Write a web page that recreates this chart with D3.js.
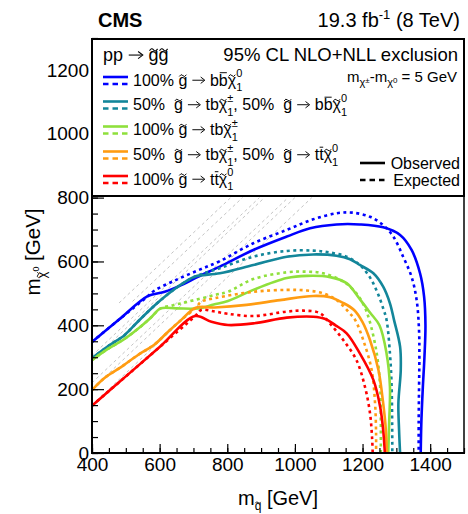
<!DOCTYPE html>
<html><head><meta charset="utf-8">
<script src="https://cdn.jsdelivr.net/npm/d3@7"></script>
<style>
body{margin:0;background:#fff}
text{font-family:'Liberation Sans',Arial,Helvetica,sans-serif;white-space:pre;fill:#000}
</style></head>
<body><svg id="c" width="468" height="514"></svg>
<script>
// ---------- data (GeV) ----------
const xTicks = [400, 600, 800, 1000, 1200, 1400];
const yTicks = [0, 200, 400, 600, 800, 1000, 1200];

const blueObs = [[400,348],[480,418],[566,492],[615,505],[664,526],[713,552],[778,584],[877,636],[976,678],[1045,704],[1123,716],[1192,716],[1261,707],[1311,683],[1345,636],[1370,563],[1382,490],[1386,400],[1383,300],[1378,200],[1374,100],[1372,0]];
const blueExp = [[400,348],[480,418],[566,492],[585,509],[644,540],[713,572],[778,601],[877,657],[976,699],[1054,732],[1123,751],[1170,753],[1222,740],[1261,714],[1291,678],[1320,615],[1345,552],[1360,479],[1367,385],[1368,300],[1367,200],[1366,100],[1366,0]];
const tealObs = [[400,297],[447,334],[497,370],[536,412],[585,462],[625,498],[674,535],[705,553],[778,563],[877,589],[976,615],[1054,622],[1123,618],[1163,607],[1192,589],[1232,563],[1261,521],[1281,469],[1293,417],[1311,333],[1313,260],[1306,156],[1308,72],[1311,0]];
const tealExp = [[400,297],[447,334],[497,370],[536,412],[585,462],[625,498],[674,535],[705,553],[778,579],[877,615],[976,633],[1054,634],[1104,628],[1153,615],[1192,589],[1222,550],[1245,500],[1262,450],[1271,417],[1281,312],[1286,208],[1288,0]];
const greenObs = [[400,291],[447,326],[497,358],[546,398],[575,425],[603,453],[650,453],[713,453],[760,465],[802,476],[877,511],[976,548],[1035,555],[1104,551],[1153,532],[1192,482],[1222,440],[1250,400],[1271,312],[1281,208],[1279,104],[1276,0]];
const greenExp = [[400,291],[447,326],[497,358],[546,398],[575,425],[603,453],[640,463],[684,474],[763,495],[802,505],[877,545],[976,566],[1035,568],[1084,563],[1143,537],[1182,500],[1205,460],[1220,417],[1242,312],[1252,208],[1254,104],[1254,0]];
const orangeObs = [[400,197],[437,235],[487,270],[536,307],[585,340],[625,380],[664,417],[707,455],[763,456],[857,464],[956,479],[1054,492],[1104,488],[1143,470],[1175,448],[1200,410],[1222,354],[1247,260],[1261,156],[1269,72],[1272,0]];
const orangeExp = [[400,197],[437,235],[487,270],[536,307],[585,340],[625,380],[664,417],[707,455],[723,474],[763,485],[877,505],[976,511],[1035,509],[1084,500],[1124,479],[1160,440],[1178,417],[1202,354],[1227,260],[1237,156],[1240,60],[1240,0]];
const redObs = [[400,148],[500,240],[600,332],[705,429],[753,411],[802,401],[877,406],[976,424],[1054,427],[1090,420],[1120,400],[1153,375],[1192,312],[1232,229],[1252,145],[1261,72],[1266,0]];
const redExp = [[400,148],[500,240],[600,332],[705,429],[723,448],[763,443],[802,436],[877,429],[976,443],[1025,446],[1074,438],[1104,405],[1143,354],[1182,291],[1207,208],[1222,125],[1228,51],[1230,0]];
// kinematic guide lines [x1,y1,x2,y2]
const guideLines = [[480,470,810,800],[520,475,845,800],[400,305,895,800],[420,310,910,800],[400,220,980,800],[400,200,1000,800],[400,150,1050,800]];

const series = [
  {name:'blue', color:'#0000ff', obs:blueObs, exp:blueExp},
  {name:'teal', color:'#13869a', obs:tealObs, exp:tealExp},
  {name:'green', color:'#8fe03c', obs:greenObs, exp:greenExp},
  {name:'orange', color:'#ff9c12', obs:orangeObs, exp:orangeExp},
  {name:'red', color:'#ff0000', obs:redObs, exp:redExp}
];

// ---------- layout ----------
const svg = d3.select('#c');
const x = d3.scaleLinear().domain([400,1500]).range([92,464]);
const y = d3.scaleLinear().domain([0,1300]).range([453,38]);

svg.append('defs').append('clipPath').attr('id','pc').append('rect')
  .attr('x',92).attr('y',38).attr('width',372).attr('height',415);

// rich text: strings, accented chars, arrows, stacked scripts
const T = (c, o={}) => Object.assign({acc:'~', t:c}, o);
const B = (c, o={}) => Object.assign({acc:'-', t:c}, o);
const AR = {arrow:true};
function rich(parent, segs, size){
  const g = parent.append('g');
  let cx = 0;
  for (const s of segs){
    if (typeof s === 'string'){
      const t = g.append('text').attr('x',cx).attr('y',0).attr('font-size',size).text(s);
      cx += t.node().getComputedTextLength();
    } else if (s.arrow){
      const w = size*0.82, ay = -size*0.33, sw = Math.max(0.9,size*0.06);
      g.append('line').attr('x1',cx+size*0.04).attr('x2',cx+w-1).attr('y1',ay).attr('y2',ay)
        .attr('stroke','#000').attr('stroke-width',sw);
      g.append('path').attr('d',`M${cx+w-size*0.26},${ay-size*0.2} L${cx+w},${ay} L${cx+w-size*0.26},${ay+size*0.2}`)
        .attr('fill','none').attr('stroke','#000').attr('stroke-width',sw);
      cx += w + size*0.04;
    } else if (s.acc){
      const fs = s.size || size, dy = s.dy || 0;
      const t = g.append('text').attr('x',cx).attr('y',dy).attr('font-size',fs).text(s.t);
      const w = t.node().getComputedTextLength();
      const tall = /[bdfhklt]/.test(s.t);
      const ay = dy - (tall ? fs*0.80 : fs*0.62);
      if (s.acc === '~'){
        const aw = Math.max(4, w*0.8), x0 = cx + (w-aw)/2, a = fs*0.09;
        g.append('path').attr('d',`M${x0},${ay+a*0.6} Q${x0+aw/4},${ay-a*1.6} ${x0+aw/2},${ay} T${x0+aw},${ay-a*0.6}`)
          .attr('fill','none').attr('stroke','#000').attr('stroke-width',Math.max(0.9,fs*0.06));
      } else {
        g.append('line').attr('x1',cx+w*0.1).attr('x2',cx+w*0.9).attr('y1',ay).attr('y2',ay)
          .attr('stroke','#000').attr('stroke-width',Math.max(0.9,fs*0.06));
      }
      cx += w;
    } else {
      const ss = s.size || size*0.65;
      let w = 0;
      if (s.sup != null){
        const t = g.append('text').attr('x',cx).attr('y',-(s.up!=null?s.up:size*0.45)).attr('font-size',ss).text(s.sup);
        w = Math.max(w, t.node().getComputedTextLength());
      }
      if (s.sub != null){
        const t = g.append('text').attr('x',cx).attr('y',(s.down!=null?s.down:size*0.3)).attr('font-size',ss).text(s.sub);
        w = Math.max(w, t.node().getComputedTextLength());
      }
      cx += w;
    }
  }
  return {g, w:cx};
}

// guide lines
const plot = svg.append('g').attr('clip-path','url(#pc)');
plot.selectAll('line.guide').data(guideLines).join('line')
  .attr('x1',d=>x(d[0])).attr('y1',d=>y(d[1])).attr('x2',d=>x(d[2])).attr('y2',d=>y(d[3]))
  .attr('stroke','#c4c4c4').attr('stroke-width',1).attr('stroke-dasharray','3,3');

const line = d3.line().x(d=>x(d[0])).y(d=>y(d[1])).curve(d3.curveCatmullRom.alpha(0.5));
series.forEach(s=>{
  plot.append('path').attr('d',line(s.exp)).attr('fill','none').attr('stroke',s.color)
    .attr('stroke-width',2.6).attr('stroke-dasharray','3,3.5');
  plot.append('path').attr('d',line(s.obs)).attr('fill','none').attr('stroke',s.color)
    .attr('stroke-width',2.6);
});

// axes
const FS = 19;
const yMinor = d3.range(0,1301,50);
const xMinor = d3.range(400,1501,50);
svg.append('g').attr('transform','translate(92,0)')
  .call(d3.axisLeft(y).tickValues(yMinor).tickSize(-6).tickFormat(''))
  .call(g=>{g.select('.domain').remove(); g.selectAll('line').attr('stroke','#000').attr('stroke-width',1.2);});
svg.append('g').attr('transform','translate(92,0)')
  .call(d3.axisLeft(y).tickValues(yTicks).tickSize(-12).tickPadding(3).tickFormat(d3.format('d')))
  .call(g=>{g.select('.domain').remove(); g.selectAll('line').attr('stroke','#000').attr('stroke-width',1.2);
    g.selectAll('text').attr('font-size',FS).attr('font-family',null).style('fill','#000');});
svg.append('g').attr('transform','translate(0,453)')
  .call(d3.axisBottom(x).tickValues(xMinor).tickSize(-5).tickFormat(''))
  .call(g=>{g.select('.domain').remove(); g.selectAll('line').attr('stroke','#000').attr('stroke-width',1.2);});
svg.append('g').attr('transform','translate(0,453)')
  .call(d3.axisBottom(x).tickValues(xTicks).tickSize(-9).tickPadding(4.5).tickFormat(d3.format('d')))
  .call(g=>{g.select('.domain').remove(); g.selectAll('line').attr('stroke','#000').attr('stroke-width',1.2);
    g.selectAll('text').attr('font-size',FS).attr('font-family',null).style('fill','#000');});

// frame
svg.append('line').attr('x1',464).attr('x2',464).attr('y1',38).attr('y2',453).attr('stroke','#000').attr('stroke-width',1.5);
svg.append('line').attr('x1',92).attr('x2',92).attr('y1',38).attr('y2',454).attr('stroke','#000').attr('stroke-width',2);
svg.append('line').attr('x1',91).attr('x2',465).attr('y1',453).attr('y2',453).attr('stroke','#000').attr('stroke-width',2);

// axis titles
{
  const r = rich(svg, ['m', T('q',{size:12,dy:5}), ' [GeV]'], 20);
  r.g.attr('transform',`translate(${278 - r.w/2},505)`);
}
{
  const outer = svg.append('g').attr('transform','translate(40,252) rotate(-90)');
  const r = rich(outer, ['m', T('\u03c7',{size:13,dy:6}), {sup:'0',up:1,size:9}, ' [GeV]'], 20.5);
  r.g.attr('transform',`translate(${-r.w/2},0)`);
}

// title texts
svg.append('text').attr('x',98).attr('y',27).attr('font-size',20).attr('font-weight','bold').text('CMS');
{
  const r = rich(svg, ['19.3 fb',{sup:'-1',up:8,size:13},' (8 TeV)'], 20);
  r.g.attr('transform',`translate(${460 - r.w},27)`);
}

// legend box
svg.append('rect').attr('x',92).attr('y',39).attr('width',372).attr('height',157)
  .attr('fill','#fff').attr('stroke','#000').attr('stroke-width',2);

const LF = 16;
{
  const r = rich(svg, ['pp ', AR, ' ', T('g'), T('g')], 18);
  r.g.attr('transform','translate(103,61)');
  svg.append('text').attr('x',458).attr('y',61).attr('font-size',18.5).attr('text-anchor','end').text('95% CL NLO+NLL exclusion');
}
{
  const r = rich(svg, ['m',{sub:'\u03c7',down:4,size:11},{sup:'\u00b1',up:-1,size:8},'-m',{sub:'\u03c7',down:4,size:11},{sup:'0',up:-1,size:8},' = 5 GeV'], 15);
  r.g.attr('transform',`translate(${457 - r.w},82)`);
}
const chi0 = {sup:'0', sub:'1', up:8.5, down:5.5, size:11};
const chiPM = {sup:'\u00b1', sub:'1', up:8.5, down:5.5, size:11};
const legendRows = [
  ['100% ', T('g'), ' ', AR, ' b', B('b'), T('\u03c7'), chi0],
  ['50%  ', T('g'), ' ', AR, ' tb', T('\u03c7'), chiPM, ', 50%  ', T('g'), ' ', AR, ' b', B('b'), T('\u03c7'), chi0],
  ['100% ', T('g'), ' ', AR, ' tb', T('\u03c7'), chiPM],
  ['50%  ', T('g'), ' ', AR, ' tb', T('\u03c7'), chiPM, ', 50%  ', T('g'), ' ', AR, ' t', B('t'), T('\u03c7'), chi0],
  ['100% ', T('g'), ' ', AR, ' t', B('t'), T('\u03c7'), chi0]
];
const rowBase = [85.5, 110, 135, 160, 184.5];
series.forEach((s,i)=>{
  const b = rowBase[i];
  svg.append('line').attr('x1',103).attr('x2',128).attr('y1',b-8.5).attr('y2',b-8.5).attr('stroke',s.color).attr('stroke-width',2.6);
  svg.append('line').attr('x1',103).attr('x2',128).attr('y1',b-1.5).attr('y2',b-1.5).attr('stroke',s.color).attr('stroke-width',2.6).attr('stroke-dasharray','5.5,4');
  const r = rich(svg, legendRows[i], LF);
  r.g.attr('transform',`translate(133,${b})`);
});
svg.append('line').attr('x1',360).attr('x2',385).attr('y1',163).attr('y2',163).attr('stroke','#000').attr('stroke-width',2.6);
svg.append('text').attr('x',460).attr('y',169).attr('font-size',LF).attr('text-anchor','end').text('Observed');
svg.append('line').attr('x1',360).attr('x2',385).attr('y1',180).attr('y2',180).attr('stroke','#000').attr('stroke-width',2.6).attr('stroke-dasharray','5.5,4');
svg.append('text').attr('x',460).attr('y',186).attr('font-size',LF).attr('text-anchor','end').text('Expected');
</script></body></html>
